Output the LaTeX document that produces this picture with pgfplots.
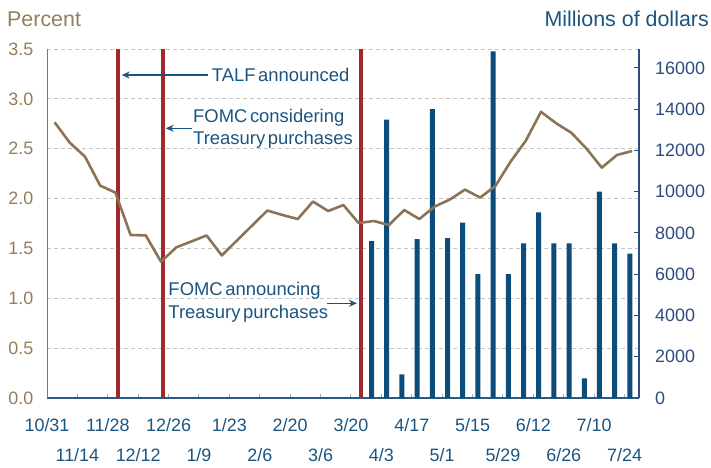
\documentclass[border=0pt]{standalone}
\usepackage{fontspec}
\setmainfont{Liberation Sans}
\usepackage{pgfplots}
\pgfplotsset{compat=1.18}
\usetikzlibrary{arrows.meta}
\definecolor{brownline}{HTML}{8C7355}
\definecolor{browntext}{HTML}{967D5C}
\definecolor{barblue}{HTML}{0B4C7A}
\definecolor{txtblue}{HTML}{1A5580}
\definecolor{navy}{HTML}{2E4C7E}
\definecolor{redline}{HTML}{A3282D}
\definecolor{gridgray}{HTML}{C4C4C4}
\definecolor{xaxisblue}{HTML}{2B5A84}
\definecolor{tickgray}{HTML}{9FB0C4}
\newcommand\annfont{\fontsize{18.5}{23}\selectfont\spaceskip 0.14em\relax}
\newcommand\tickfont{\fontsize{18}{18}\selectfont}
\newcommand\unitfont{\fontsize{21.5}{21.5}\selectfont}
\newcommand\low[1]{\raisebox{-30bp}[0pt][0pt]{#1}}
\pgfplotsset{base/.style={scale only axis, width=592bp, height=349bp,
  at={(0,0)}, anchor=south west, xmin=0, xmax=38.95,
  tick label style={font=\tickfont, /pgf/number format/assume math mode=true},
  clip=false}}
\begin{document}
\begin{tikzpicture}
\path[use as bounding box] (-47bp,-70bp) rectangle (664bp,398bp);
% left axis: grid, red event lines, annotations
\begin{axis}[base, ymin=0, ymax=3.5,
  axis x line*=bottom, axis y line*=left,
  x axis line style={xaxisblue, line width=1.5bp, -},
  y axis line style={brownline, line width=1bp, -},
  ytick={0,0.5,...,3.5},
  yticklabel style={/pgf/number format/fixed, /pgf/number format/fixed zerofill, /pgf/number format/precision=1, browntext, inner sep=0pt, xshift=-13.5bp},
  ytick style={draw=none},
  ymajorgrids, xmajorgrids=false, grid style={gridgray, dash pattern=on 4bp off 3bp, line width=0.9bp},
  tick align=inside, major tick length=4.5bp,
  xtick style={draw=tickgray, line width=1bp},
  xtick={0,2,...,38},
  xticklabels={10/31,\low{11/14},11/28,\low{12/12},12/26,\low{1/9},1/23,\low{2/6},2/20,\low{3/6},3/20,\low{4/3},4/17,\low{5/1},5/15,\low{5/29},6/12,\low{6/26},7/10,\low{7/24}},
  xticklabel style={txtblue, anchor=base, inner sep=0pt, yshift=-33.6bp},
]
\addplot[redline, line width=4.3bp] coordinates {(4.66,0) (4.66,3.5)};
\addplot[redline, line width=4.3bp] coordinates {(7.65,0) (7.65,3.5)};
\addplot[redline, line width=4.3bp] coordinates {(20.64,0) (20.64,3.5)};
\node[text=txtblue, inner sep=0pt, anchor=west, font=\annfont, align=left] at (axis cs:10.84,3.239) {TALF announced};
\node[text=txtblue, inner sep=0pt, anchor=west, font=\annfont, align=left] at (axis cs:9.605,2.70) {FOMC considering\\Treasury purchases};
\node[text=txtblue, inner sep=0pt, anchor=west, font=\annfont, align=left] at (axis cs:7.98,0.958) {FOMC announcing\\Treasury purchases};
\draw[txtblue, line width=1.2bp, -{Stealth[length=8bp,width=7bp]}] (axis cs:10.59,3.239) -- (axis cs:4.914,3.239);
\draw[txtblue, line width=1.2bp, -{Stealth[length=8bp,width=7bp]}] (axis cs:9.52,2.705) -- (axis cs:7.81,2.705);
\draw[txtblue, line width=1.2bp, -{Stealth[length=8bp,width=7bp]}] (axis cs:18.40,0.95) -- (axis cs:20.39,0.95);
\node[text=browntext, anchor=base west, inner sep=0pt, font=\unitfont] at ([xshift=-40bp,yshift=22.3bp]rel axis cs:0,1) {Percent};
\node[text=txtblue, anchor=base east, inner sep=0pt, font=\unitfont] at ([xshift=70bp,yshift=22.3bp]rel axis cs:1,1) {Millions of dollars};
\end{axis}
% right axis: bars
\begin{axis}[base, ymin=0, ymax=16920,
  axis x line=none, axis y line*=right,
  y axis line style={navy, line width=1.5bp, -},
  ytick={0,2000,...,16000},
  scaled y ticks=false,
  yticklabel style={/pgf/number format/set thousands separator={}, navy, inner sep=0pt, xshift=16bp},
  tick align=inside, major tick length=5.5bp,
  ytick style={draw=navy, line width=1bp},
]
\addplot[ybar, bar width=5bp, fill=barblue, draw=none] coordinates {
(21.35,7600) (22.35,13500) (23.35,1150) (24.35,7700) (25.35,14000) (26.35,7750)
(27.35,8500) (28.35,6000) (29.35,16800) (30.35,6000) (31.35,7500) (32.35,9000)
(33.35,7500) (34.35,7500) (35.35,950) (36.35,10000) (37.35,7500) (38.35,7000)};
\end{axis}
% line on top
\begin{axis}[base, ymin=0, ymax=3.5, hide axis]
\addplot[brownline, line width=2.6bp, line join=round] coordinates {
(0.5,2.765) (1.5,2.56) (2.5,2.42) (3.5,2.13) (4.5,2.06) (5.5,1.635) (6.5,1.63)
(7.5,1.367) (8.5,1.51) (9.5,1.57) (10.5,1.63) (11.5,1.43) (12.5,1.58) (13.5,1.73)
(14.5,1.88) (15.5,1.835) (16.5,1.795) (17.5,1.97) (18.5,1.875) (19.5,1.935)
(20.5,1.755) (21.5,1.775) (22.5,1.735) (23.5,1.885) (24.5,1.795) (25.5,1.92)
(26.5,1.99) (27.5,2.09) (28.5,2.01) (29.5,2.126) (30.5,2.37) (31.5,2.58)
(32.5,2.87) (33.5,2.755) (34.5,2.66) (35.5,2.50) (36.5,2.31) (37.5,2.437) (38.5,2.477)};
\end{axis}
\end{tikzpicture}
\end{document}
